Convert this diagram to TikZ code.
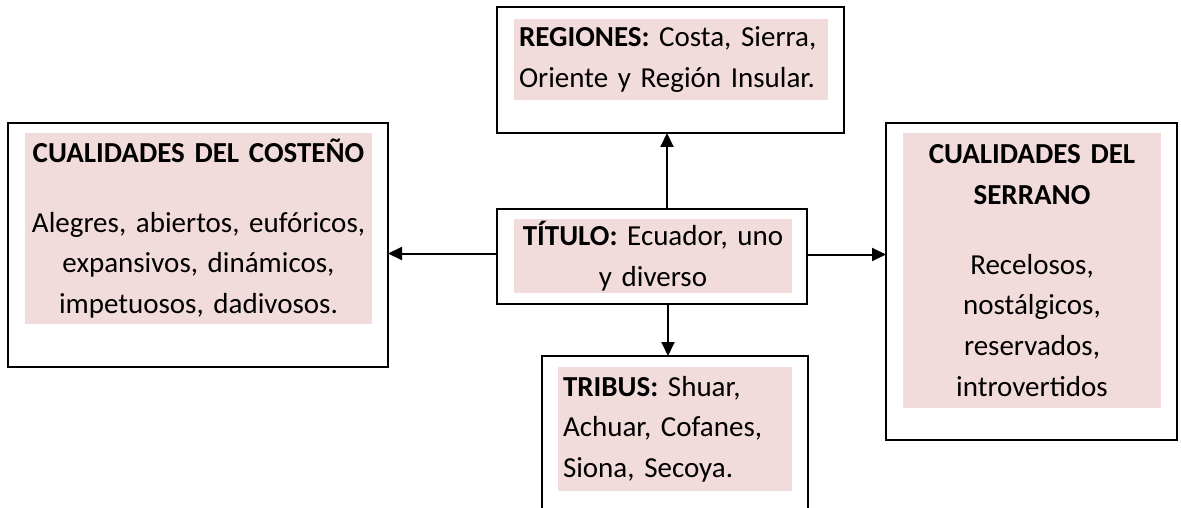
\documentclass[tikz,border=0pt]{standalone}
\usepackage{fontspec}
\setmainfont{Carlito}
\usepackage{xcolor}
\usepackage{tikz}
\usetikzlibrary{arrows.meta, positioning, calc}
\definecolor{fondorosa}{RGB}{242, 219, 219}
\definecolor{bordenegro}{RGB}{0, 0, 0}

\tikzset{
    caja/.style={draw=bordenegro, fill=white, line width=1.7pt, inner sep=0pt, outer sep=0pt},
    fondo/.style={fill=fondorosa, inner xsep=5pt, inner ysep=0pt, outer sep=0pt,
                  font=\fontsize{29}{40.6}\selectfont\frenchspacing},
    flecha/.style={-{Triangle[length=14pt, width=13pt]}, line width=2pt, draw=bordenegro}
}

\begin{document}
\begin{tikzpicture}[x=1pt, y=-1pt]
            \fill[white] (0,0) rectangle (1181,508);
            \clip (0,0) rectangle (1181,508);
            % cajas exteriores
            \node[caja, minimum width=380pt, minimum height=244pt] (costeno) at (198,245) {};
            \node[caja, minimum width=347pt, minimum height=126pt] (regiones) at (670.5,70) {};
            \node[caja, minimum width=310pt, minimum height=95pt] (titulo) at (652,256.5) {};
            \node[caja, minimum width=291pt, minimum height=317pt] (serrano) at (1031.5,281.5) {};
            \node[caja, minimum width=266pt, minimum height=174pt] (tribus) at (675,443) {};
            % textos sobre fondo rosa
            \node[fondo, minimum width=347pt, minimum height=191pt, text width=337pt, align=center]
                (costenotxt) at (198.5,228.5) {
                \textbf{CUALIDADES DEL COSTEÑO}\\[29.4pt]
                Alegres, abiertos, eufóricos,\\
                expansivos, dinámicos,\\
                impetuosos, dadivosos.
            };
            \node[fondo, minimum width=314pt, minimum height=81pt, text width=304pt, align=left]
                (regionestxt) at (671,59.5) {
                \textbf{REGIONES:} Costa, Sierra,\\
                Oriente y Región Insular.
            };
            \node[fondo, minimum width=278pt, minimum height=74pt, text width=268pt, align=center]
                (titulotxt) at (653,256) {
                \textbf{TÍTULO:} Ecuador, uno\\
                y diverso
            };
            \node[fondo, minimum width=258pt, minimum height=275pt, text width=248pt, align=center]
                (serranotxt) at (1032,270.5) {
                \textbf{CUALIDADES DEL}\\
                \textbf{SERRANO}\\[29.4pt]
                Recelosos,\\
                nostálgicos,\\
                reservados,\\
                introvertidos
            };
            \node[fondo, minimum width=234pt, minimum height=124pt, text width=224pt, align=left]
                (tribustxt) at (675,429) {
                \textbf{TRIBUS:} Shuar,\\
                Achuar, Cofanes,\\
                Siona, Secoya.
            };
            % conectores
            \draw[flecha] ([yshift=3pt]titulo.west) -- ([yshift=3pt]titulo.west -| costeno.east);
            \draw[flecha] ([yshift=2pt]titulo.east) -- ([yshift=2pt]titulo.east -| serrano.west);
            \draw[flecha] ([xshift=15pt]titulo.north) -- ([xshift=15pt]titulo.north |- regiones.south);
            \draw[flecha] ([xshift=16pt]titulo.south) -- ([xshift=16pt]titulo.south |- tribus.north);
        \end{tikzpicture}
\end{document}
